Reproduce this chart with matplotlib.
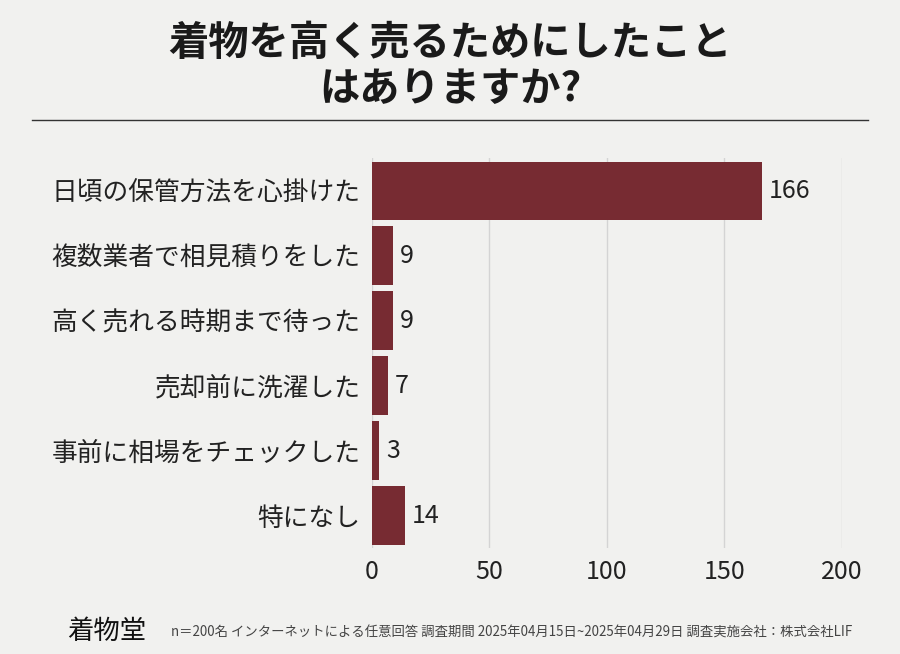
import matplotlib.pyplot as plt
from matplotlib.lines import Line2D

plt.rcParams['font.family'] = 'Noto Sans CJK JP'

# データ
categories = ['日頃の保管方法を心掛けた', '複数業者で相見積りをした', '高く売れる時期まで待った',
              '売却前に洗濯した', '事前に相場をチェックした', '特になし']
values = [166, 9, 9, 7, 3, 14]
xticks = [0, 50, 100, 150, 200]

bg = '#f1f1ef'
bar_color = '#772b32'

fig = plt.figure(figsize=(9, 6.54), dpi=100, facecolor=bg)
ax = fig.add_axes([0.413, 0.162, 0.5226, 0.596], facecolor=bg)

y = list(range(len(categories)))
ax.barh(y, values, height=0.9, color=bar_color, zorder=3)
for yi, v in zip(y, values):
    ax.text(v + 3, yi, str(v), va='center', ha='left', fontsize=18, color='#222222')

ax.set_ylim(len(categories) - 0.5, -0.5)
ax.set_xlim(0, 200)
ax.set_yticks(y)
ax.set_yticklabels(categories, fontsize=18.5, color='#222222')
ax.set_xticks(xticks)
ax.set_xticklabels([str(t) for t in xticks], fontsize=18, color='#222222')
ax.tick_params(length=0, pad=8)
ax.grid(axis='x', color='#d4d4d4', linewidth=1, zorder=0)
for s in ax.spines.values():
    s.set_visible(False)

fig.text(0.5, 0.965, '着物を高く売るためにしたこと\nはありますか?', ha='center', va='top',
         fontsize=29, fontweight='bold', color='#1a1a1a', linespacing=1.15)
fig.add_artist(Line2D([0.036, 0.964], [0.817, 0.817], color='#333333', linewidth=1))

fig.text(0.075, 0.035, '着物堂', fontsize=19, color='#111111', va='center')
fig.text(0.19, 0.032, 'n＝200名 インターネットによる任意回答 調査期間 2025年04月15日~2025年04月29日 調査実施会社：株式会社LIF',
         fontsize=9.6, color='#444444', va='center')

fig.savefig('out.png', dpi=100, facecolor=bg)
